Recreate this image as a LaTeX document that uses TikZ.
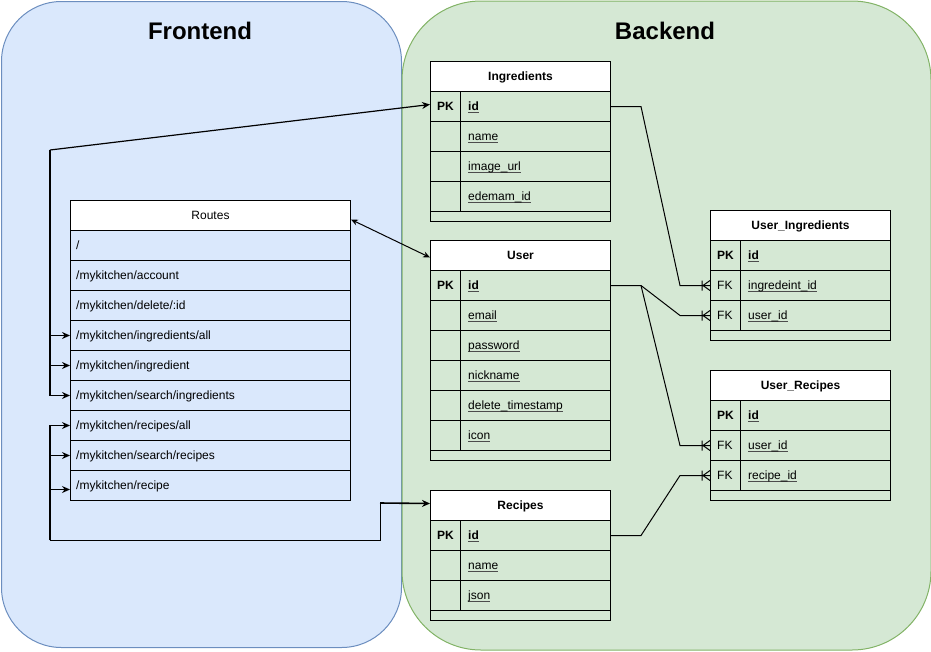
\documentclass[tikz,border=0pt]{standalone}
\usepackage{fontspec}
\setmainfont{Liberation Sans}
\usetikzlibrary{arrows.meta}
\definecolor{feFill}{HTML}{DAE8FC}
\definecolor{feLine}{HTML}{6C8EBF}
\definecolor{beFill}{HTML}{D5E8D4}
\definecolor{beLine}{HTML}{82B366}
\newsavebox\ulbox
\newcommand\fld[1]{\sbox\ulbox{#1}\rlap{\color{black!70}\rule[-2.4pt]{\wd\ulbox}{1pt}}\usebox\ulbox}
% table row: name, x, y, key, field
\newcommand\dbrow[5]{%
  \node[dbrowbox] (#1) at (#2,#3) {};
  \node[keytxt] (#1-k) at (#2+7,#3+19.5) {#4};
  \node[keytxt] (#1-f) at (#2+38,#3+19.5) {#5};
}
% route row: name, y, text
\newcommand\rtrow[3]{%
  \node[rtbox] (#1) at (70,#2) {};
  \node[keytxt] (#1-t) at (76,#2+19.5) {#3};
}
\begin{document}
\begin{tikzpicture}[x=1pt,y=-1pt,
  txt/.style={font=\fontsize{12}{14}\selectfont},
  region/.style={draw, line width=1pt, anchor=north west, inner sep=0pt},
  head/.style={font=\fontsize{24}{28}\selectfont\bfseries, inner sep=0pt},
  dbrowbox/.style={draw, line width=1pt, minimum width=180pt, minimum height=30pt, inner sep=0pt, anchor=north west},
  dbtitle/.style={dbrowbox, fill=white, font=\fontsize{12}{14}\selectfont\bfseries, text depth=0pt, text height=8.6pt},
  dbend/.style={dbrowbox, minimum height=10pt},
  rtbox/.style={draw, line width=1pt, minimum width=280pt, minimum height=30pt, inner sep=0pt, anchor=north west},
  rttitle/.style={rtbox, fill=white, font=\fontsize{12}{14}\selectfont, text depth=0pt, text height=8.6pt},
  keytxt/.style={txt, anchor=base west, inner sep=0pt},
  conn/.style={line width=1pt},
  arr/.style={line width=1.2pt, -{Stealth[length=8pt,width=7pt]}},
  darr/.style={conn, {Stealth[length=7pt,width=6pt]}-{Stealth[length=7pt,width=6pt]}},
  crow/.style={line width=1pt},
]
\useasboundingbox (0,0) rectangle (931,651);

% regions
\node[region, fill=feFill, draw=feLine, rounded corners=60pt, minimum width=400pt, minimum height=646pt] (frontend) at (1,1) {};
\node[region, fill=beFill, draw=beLine, rounded corners=79pt, minimum width=529pt, minimum height=649pt] (backend) at (401.5,0.5) {};
\node[head] (fe-label) at (200,31) {Frontend};
\node[head] (be-label) at (665,31) {Backend};

% Ingredients
\node[dbtitle] (ing-title) at (430,61) {Ingredients};
\dbrow{ing-id}{430}{91}{\bfseries PK}{\bfseries\fld{id}}
\dbrow{ing-name}{430}{121}{}{\fld{name}}
\dbrow{ing-img}{430}{151}{}{\fld{image\_url}}
\dbrow{ing-ed}{430}{181}{}{\fld{edemam\_id}}
\node[dbend] (ing-end) at (430,211) {};
\draw[line width=1pt] (ing-id.north west) ++(30,0) -- (460,211);

% User
\node[dbtitle] (user-title) at (430,240) {User};
\dbrow{user-id}{430}{270}{\bfseries PK}{\bfseries\fld{id}}
\dbrow{user-email}{430}{300}{}{\fld{email}}
\dbrow{user-pw}{430}{330}{}{\fld{password}}
\dbrow{user-nick}{430}{360}{}{\fld{nickname}}
\dbrow{user-del}{430}{390}{}{\fld{delete\_timestamp}}
\dbrow{user-icon}{430}{420}{}{\fld{icon}}
\node[dbend] (user-end) at (430,450) {};
\draw[line width=1pt] (460,270) -- (460,450);

% Recipes
\node[dbtitle] (rec-title) at (430,490) {Recipes};
\dbrow{rec-id}{430}{520}{\bfseries PK}{\bfseries\fld{id}}
\dbrow{rec-name}{430}{550}{}{\fld{name}}
\dbrow{rec-json}{430}{580}{}{\fld{json}}
\node[dbend] (rec-end) at (430,610) {};
\draw[line width=1pt] (460,520) -- (460,610);

% User_Ingredients
\node[dbtitle] (ui-title) at (710,210) {User\_Ingredients};
\dbrow{ui-id}{710}{240}{\bfseries PK}{\bfseries\fld{id}}
\dbrow{ui-ing}{710}{270}{FK}{\fld{ingredeint\_id}}
\dbrow{ui-user}{710}{300}{FK}{\fld{user\_id}}
\node[dbend] (ui-end) at (710,330) {};
\draw[line width=1pt] (740,240) -- (740,330);

% User_Recipes
\node[dbtitle] (ur-title) at (710,370) {User\_Recipes};
\dbrow{ur-id}{710}{400}{\bfseries PK}{\bfseries\fld{id}}
\dbrow{ur-user}{710}{430}{FK}{\fld{user\_id}}
\dbrow{ur-rec}{710}{460}{FK}{\fld{recipe\_id}}
\node[dbend] (ur-end) at (710,490) {};
\draw[line width=1pt] (740,400) -- (740,490);

% Routes
\node[rttitle] (routes) at (70,200) {Routes};
\rtrow{r-root}{230}{/}
\rtrow{r-acc}{260}{/mykitchen/account}
\rtrow{r-del}{290}{/mykitchen/delete/:id}
\rtrow{r-ingall}{320}{/mykitchen/ingredients/all}
\rtrow{r-ing}{350}{/mykitchen/ingredient}
\rtrow{r-sing}{380}{/mykitchen/search/ingredients}
\rtrow{r-recall}{410}{/mykitchen/recipes/all}
\rtrow{r-srec}{440}{/mykitchen/search/recipes}
\rtrow{r-rec}{470}{/mykitchen/recipe}

% route connectors
\coordinate (ti) at (50,150);
\draw[arr] (ti) -- ([yshift=2pt]ing-id.west);
\draw[arr] (ti) |- (r-ingall.west);
\draw[arr] (ti) |- (r-ing.west);
\draw[arr] (ti) |- (r-sing.west);
\coordinate (tr) at (50,540);
\coordinate (tr2) at (380,540);
\coordinate (tr3) at (380,503);
\draw[arr] (tr) |- (r-recall.west);
\draw[arr] (tr) |- (r-srec.west);
\draw[arr] (tr) |- ([yshift=-4pt]r-rec.west);
\draw[conn] (tr) -- (tr2) -- (tr3);
\draw[arr, line width=1.6pt] (tr3) -- ([yshift=2pt]rec-title.west);
\draw[darr] ([yshift=-4pt]routes.east) -- ([yshift=-2pt]user-title.west);

% ER connectors
\draw[conn] (ing-id.east) -- ++(30,0) -- ([xshift=-30pt]ui-ing.west) -- (ui-ing.west);
\draw[conn] (user-id.east) -- ++(30,0) -- ([xshift=-30pt]ui-user.west) -- (ui-user.west);
\draw[conn] (user-id.east) ++(30,0) -- ([xshift=-30pt]ur-user.west) -- (ur-user.west);
\draw[conn] (rec-id.east) -- ++(30,0) -- ([xshift=-30pt]ur-rec.west) -- (ur-rec.west);
\foreach \n in {ui-ing, ui-user, ur-user, ur-rec}{
  \draw[crow, shift={(\n.west)}] (-8,-5) -- (-8,5) (-7,0) -- (0,-5) (-7,0) -- (0,5);
}
\end{tikzpicture}
\end{document}
